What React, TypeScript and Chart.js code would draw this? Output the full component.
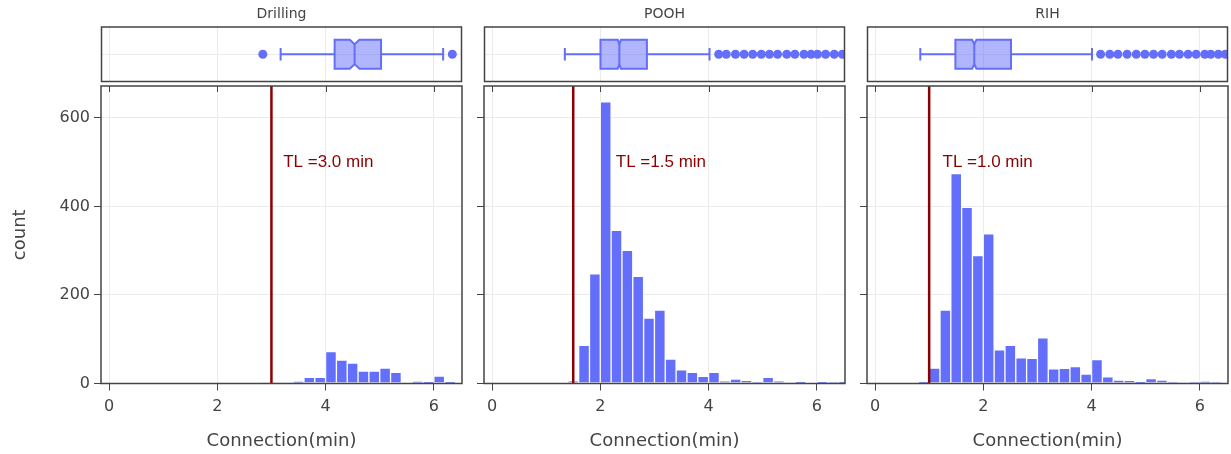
import React, { useEffect, useRef } from 'react';
import { Chart, registerables } from 'chart.js';

Chart.register(...registerables);

// ---------------- data ----------------
const PANEL_TITLES = ['Drilling', 'POOH', 'RIH'];
const X_TITLE = 'Connection(min)';
const Y_TITLE = 'count';
const X_TICKS = [0, 2, 4, 6];
const Y_TICKS = [0, 200, 400, 600];
const X_MIN = -0.148;
const X_MAX = 6.52;
const Y_MAX = 672;

const BIN_WIDTH = 0.2;
const BIN_LEFT = [0.8, 1.0, 1.2, 1.4, 1.6, 1.8, 2.0, 2.2, 2.4, 2.6, 2.8, 3.0, 3.2, 3.4, 3.6, 3.8, 4.0, 4.2, 4.4, 4.6, 4.8, 5.0, 5.2, 5.4, 5.6, 5.8, 6.0, 6.2, 6.4];
const COUNTS_DRILLING = [0, 0, 0, 0, 0, 0, 0, 0, 0, 0, 1, 1, 1, 5, 14, 14, 72, 53, 46, 28, 28, 35, 25, 0, 5, 3, 17, 3, 0];
const COUNTS_POOH = [0, 0, 0, 6, 86, 248, 636, 346, 301, 242, 148, 166, 55, 31, 25, 16, 25, 6, 10, 7, 2, 14, 6, 1, 3, 0, 3, 2, 3];
const COUNTS_RIH = [4, 35, 166, 474, 398, 289, 338, 76, 86, 58, 57, 103, 33, 34, 38, 21, 54, 15, 8, 7, 3, 11, 8, 2, 1, 2, 5, 2, 0];

const TL_VALUES = [3.0, 1.5, 1.0];
const TL_LABELS = ['TL =3.0 min', 'TL =1.5 min', 'TL =1.0 min'];
const TL_LABEL_X = [4.05, 3.12, 2.08];
const TL_LABEL_Y = 500;

const BOX_LOWER = [3.17, 1.34, 0.83];
const BOX_Q1 = [4.17, 2.0, 1.48];
const BOX_MEDIAN = [4.54, 2.35, 1.83];
const BOX_Q3 = [5.03, 2.86, 2.51];
const BOX_UPPER = [6.18, 4.02, 4.01];
const BOX_NOTCH = [0.09, 0.03, 0.04];
const OUTLIERS_DRILLING = [2.84, 6.35];
const OUTLIERS_POOH = [4.19, 4.33, 4.5, 4.66, 4.82, 4.98, 5.13, 5.28, 5.45, 5.6, 5.77, 5.9, 6.02, 6.17, 6.33, 6.48];
const OUTLIERS_RIH = [4.17, 4.34, 4.49, 4.66, 4.83, 4.99, 5.15, 5.31, 5.48, 5.63, 5.79, 5.94, 6.1, 6.21, 6.35, 6.48];

const ALL_COUNTS = [COUNTS_DRILLING, COUNTS_POOH, COUNTS_RIH];
const ALL_OUTLIERS = [OUTLIERS_DRILLING, OUTLIERS_POOH, OUTLIERS_RIH];

// ---------------- style / layout ----------------
const FONT = '"DejaVu Sans", Verdana, sans-serif';
const ANNOT_FONT = '"Liberation Sans", Arial, sans-serif';
const TEXT_COLOR = '#444';
const GRID_COLOR = '#ebebeb';
const FRAME_COLOR = '#444';
const BAR_COLOR = '#636EFA';
const BOX_FILL = 'rgba(99,110,250,0.5)';
const TL_COLOR = '#8B0000';

const PANEL_LEFT = [101, 483.5, 866.5];
const PANEL_WIDTH = 361;
const BOX_TOP = 27;
const BOX_BOTTOM = 83.5;
const HIST_TOP = 86;
const HIST_BOTTOM = 383.5;
const PAGE_H = 454;
const BOX_HALF = 0.265;
const CAP_HALF = 0.115;
const NOTCH_DEPTH = 0.3;

const framePlugin = (topTicks: boolean) => ({
  id: 'frame',
  afterDraw(chart: any) {
    const { ctx, chartArea: a } = chart;
    ctx.save();
    ctx.strokeStyle = FRAME_COLOR;
    ctx.lineWidth = 1.5;
    ctx.strokeRect(a.left, a.top, a.right - a.left, a.bottom - a.top);
    if (topTicks) {
      const xs = chart.scales.x;
      ctx.lineWidth = 1;
      ctx.beginPath();
      X_TICKS.forEach((v) => {
        const px = Math.round(xs.getPixelForValue(v)) + 0.5;
        ctx.moveTo(px, a.top);
        ctx.lineTo(px, a.top + 6);
      });
      ctx.stroke();
    }
    ctx.restore();
  },
});

const annotPlugin = (i: number) => ({
  id: 'annot',
  afterDatasetsDraw(chart: any) {
    const { ctx } = chart;
    const x = chart.scales.x.getPixelForValue(TL_LABEL_X[i]);
    const y = chart.scales.y.getPixelForValue(TL_LABEL_Y);
    ctx.save();
    ctx.fillStyle = TL_COLOR;
    ctx.font = `17px ${ANNOT_FONT}`;
    ctx.textAlign = 'center';
    ctx.textBaseline = 'middle';
    ctx.fillText(TL_LABELS[i], x, y);
    ctx.restore();
  },
});

const boxPlugin = (i: number) => ({
  id: 'box',
  beforeDatasetsDraw(chart: any) {
    const { ctx } = chart;
    const xs = chart.scales.x;
    const ys = chart.scales.y;
    const px = (v: number) => xs.getPixelForValue(v);
    const yc = ys.getPixelForValue(0.5);
    const top = ys.getPixelForValue(0.5 + BOX_HALF);
    const bot = ys.getPixelForValue(0.5 - BOX_HALF);
    const h = bot - yc;
    const d = h * NOTCH_DEPTH;
    const capT = ys.getPixelForValue(0.5 + CAP_HALF);
    const capB = ys.getPixelForValue(0.5 - CAP_HALF);
    const q1 = px(BOX_Q1[i]);
    const q3 = px(BOX_Q3[i]);
    const med = px(BOX_MEDIAN[i]);
    const nL = px(BOX_MEDIAN[i] - BOX_NOTCH[i]);
    const nR = px(BOX_MEDIAN[i] + BOX_NOTCH[i]);
    const lo = px(BOX_LOWER[i]);
    const hi = px(BOX_UPPER[i]);
    ctx.save();
    ctx.strokeStyle = BAR_COLOR;
    ctx.lineWidth = 2;
    ctx.beginPath();
    ctx.moveTo(lo, yc); ctx.lineTo(q1, yc);
    ctx.moveTo(q3, yc); ctx.lineTo(hi, yc);
    ctx.moveTo(lo, capT); ctx.lineTo(lo, capB);
    ctx.moveTo(hi, capT); ctx.lineTo(hi, capB);
    ctx.stroke();
    ctx.beginPath();
    ctx.moveTo(q1, top);
    ctx.lineTo(nL, top);
    ctx.lineTo(med, top + d);
    ctx.lineTo(nR, top);
    ctx.lineTo(q3, top);
    ctx.lineTo(q3, bot);
    ctx.lineTo(nR, bot);
    ctx.lineTo(med, bot - d);
    ctx.lineTo(nL, bot);
    ctx.lineTo(q1, bot);
    ctx.closePath();
    ctx.fillStyle = BOX_FILL;
    ctx.fill();
    ctx.stroke();
    ctx.beginPath();
    ctx.moveTo(med, top + d);
    ctx.lineTo(med, bot - d);
    ctx.stroke();
    ctx.restore();
  },
});

const xTickBuilder = (s: any) => {
  s.ticks = X_TICKS.map((v) => ({ value: v }));
};
const yTickBuilder = (s: any) => {
  s.ticks = Y_TICKS.map((v) => ({ value: v }));
};

function boxConfig(i: number): any {
  return {
    type: 'scatter',
    data: {
      datasets: [
        {
          data: ALL_OUTLIERS[i].map((x) => ({ x, y: 0.5 })),
          pointRadius: 4.5,
          pointBackgroundColor: BAR_COLOR,
          pointBorderWidth: 0,
          backgroundColor: BAR_COLOR,
          borderWidth: 0,
          clip: 0,
        },
      ],
    },
    options: {
      animation: false,
      responsive: false,
      events: [],
      layout: { padding: { left: 4, right: 4, top: 0, bottom: 86 - BOX_BOTTOM } },
      plugins: {
        legend: { display: false },
        tooltip: { enabled: false },
        title: {
          display: true,
          text: PANEL_TITLES[i],
          color: TEXT_COLOR,
          font: { size: 14, family: FONT, weight: 'normal', lineHeight: 1.2 },
          padding: { top: BOX_TOP - 16.8 - 4, bottom: 4 },
        },
      },
      scales: {
        x: {
          type: 'linear',
          min: X_MIN,
          max: X_MAX,
          afterBuildTicks: xTickBuilder,
          afterFit: (s: any) => { s.height = 0; s.paddingLeft = 0; s.paddingRight = 0; },
          ticks: { display: false },
          grid: { color: GRID_COLOR, drawTicks: false },
          border: { display: false },
        },
        y: {
          type: 'linear',
          min: 0,
          max: 1,
          afterBuildTicks: (s: any) => { s.ticks = [{ value: 0.5 }]; },
          afterFit: (s: any) => { s.width = 0; s.paddingTop = 0; s.paddingBottom = 0; },
          ticks: { display: false },
          grid: { color: GRID_COLOR, drawTicks: false },
          border: { display: false },
        },
      },
    },
    plugins: [boxPlugin(i), framePlugin(false)],
  };
}

function histConfig(i: number, padL: number, height: number): any {
  const counts = ALL_COUNTS[i];
  const barData = BIN_LEFT.map((b, k) => ({ x: b + BIN_WIDTH / 2, y: counts[k] }));
  const first = i === 0;
  return {
    type: 'bar',
    data: {
      datasets: [
        {
          type: 'bar',
          data: barData,
          backgroundColor: BAR_COLOR,
          borderColor: 'rgba(255,255,255,0.55)',
          borderWidth: 1,
          borderSkipped: false,
          barPercentage: 1,
          categoryPercentage: 1,
          order: 2,
        },
        {
          type: 'line',
          data: [{ x: TL_VALUES[i], y: 0 }, { x: TL_VALUES[i], y: Y_MAX }],
          borderColor: TL_COLOR,
          borderWidth: 2.5,
          pointRadius: 0,
          order: 1,
        },
      ],
    },
    options: {
      animation: false,
      responsive: false,
      events: [],
      layout: { padding: { left: 0, right: 6, top: HIST_TOP - 82, bottom: 0 } },
      plugins: { legend: { display: false }, tooltip: { enabled: false } },
      scales: {
        x: {
          type: 'linear',
          min: X_MIN,
          max: X_MAX,
          offset: false,
          afterBuildTicks: xTickBuilder,
          afterFit: (s: any) => {
            s.height = height - (HIST_BOTTOM - 82);
            s.paddingLeft = 0;
            s.paddingRight = 0;
          },
          ticks: {
            color: TEXT_COLOR,
            font: { size: 16, family: FONT },
            padding: 7,
            maxRotation: 0,
            callback: (v: any) => String(v),
          },
          grid: { color: GRID_COLOR, offset: false, drawTicks: true, tickLength: 7, tickColor: FRAME_COLOR, tickWidth: 1 },
          border: { display: false },
          title: {
            display: true,
            text: X_TITLE,
            color: TEXT_COLOR,
            font: { size: 18, family: FONT, lineHeight: 1.2 },
            padding: { top: 0, bottom: 2 },
          },
        },
        y: {
          type: 'linear',
          min: 0,
          max: Y_MAX,
          afterBuildTicks: yTickBuilder,
          afterFit: (s: any) => {
            s.width = padL;
            s.paddingTop = 0;
            s.paddingBottom = 0;
          },
          ticks: {
            display: first,
            color: TEXT_COLOR,
            font: { size: 16, family: FONT },
            padding: 4,
            callback: (v: any) => String(v),
          },
          grid: { color: GRID_COLOR, drawTicks: true, tickLength: 7, tickColor: FRAME_COLOR, tickWidth: 1 },
          border: { display: false },
          title: {
            display: first,
            text: Y_TITLE,
            color: TEXT_COLOR,
            font: { size: 18, family: FONT, lineHeight: 1.2 },
            padding: { top: 9.5, bottom: 0 },
          },
        },
      },
    },
    plugins: [annotPlugin(i), framePlugin(true)],
  };
}

function Panel({ index }: { index: number }) {
  const boxRef = useRef<HTMLCanvasElement>(null);
  const histRef = useRef<HTMLCanvasElement>(null);
  const L = PANEL_LEFT[index];
  const padL = index === 0 ? L : 20;
  const boxW = PANEL_WIDTH + 8;
  const boxH = 86;
  const histW = padL + PANEL_WIDTH + 6;
  const histH = PAGE_H - 82;

  useEffect(() => {
    const b = new Chart(boxRef.current as HTMLCanvasElement, boxConfig(index));
    const h = new Chart(histRef.current as HTMLCanvasElement, histConfig(index, padL, histH));
    return () => {
      b.destroy();
      h.destroy();
    };
  }, [index]);

  return (
    <>
      <canvas
        ref={boxRef}
        width={boxW}
        height={boxH}
        style={{ position: 'absolute', left: L - 4, top: 0, width: boxW, height: boxH }}
      />
      <canvas
        ref={histRef}
        width={histW}
        height={histH}
        style={{ position: 'absolute', left: L - padL, top: 82, width: histW, height: histH }}
      />
    </>
  );
}

export default function App() {
  return (
    <div style={{ position: 'absolute', left: 0, top: 0, width: 1231, height: PAGE_H, background: '#fff', overflow: 'hidden' }}>
      {PANEL_TITLES.map((_, i) => (
        <Panel key={i} index={i} />
      ))}
    </div>
  );
}
